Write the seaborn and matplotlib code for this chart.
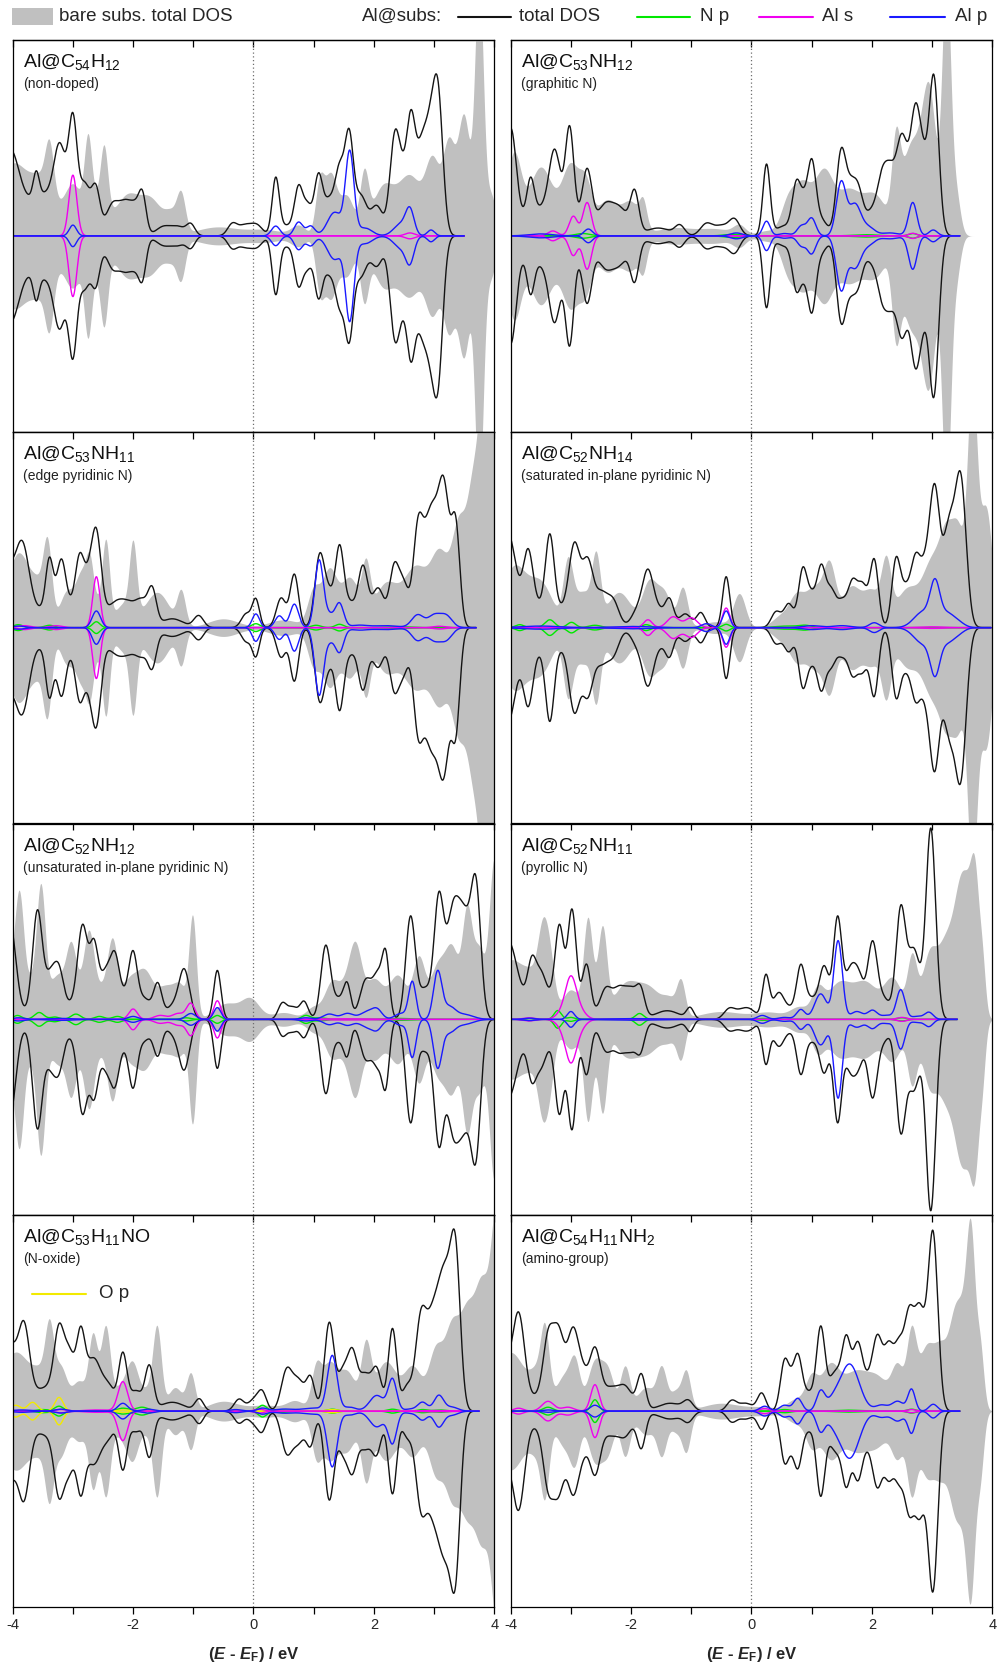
import numpy as np
import pandas as pd
import matplotlib
matplotlib.use("Agg")
import matplotlib.pyplot as plt
import seaborn as sns
from matplotlib import font_manager
from matplotlib.patches import Rectangle
from matplotlib.lines import Line2D

# ---------------------------------------------------------------------------
# Density of states: each curve is a list of broadened levels
# (energy relative to E_F / eV, peak height / arb. units, Gaussian width / eV).
# Positive half = spin up, mirrored half = spin down.
# ---------------------------------------------------------------------------

# Al@C54H12 (non-doped)
P1_BARE = [(-4.0, 0.36, 0.25), (-3.5, 0.25, 0.2), (-3.39, 0.25, 0.07), (-3.0, 0.25, 0.15),
           (-2.75, 0.35, 0.06), (-2.6, 0.18, 0.15), (-2.48, 0.3, 0.06), (-2.1, 0.2, 0.2),
           (-1.7, 0.17, 0.18), (-1.35, 0.1, 0.12), (-1.2, 0.17, 0.07), (-0.6, 0.045, 0.35),
           (0.2, 0.03, 0.3), (0.75, 0.05, 0.12), (1.1, 0.25, 0.07), (1.28, 0.3, 0.1),
           (1.55, 0.2, 0.12), (1.84, 0.28, 0.07), (2.15, 0.24, 0.18), (2.6, 0.3, 0.2),
           (2.98, 0.35, 0.12), (3.25, 0.45, 0.1), (3.5, 0.6, 0.1), (3.75, 1.3, 0.07),
           (3.95, 0.2, 0.08)]
P1_TOTAL = [(-4.05, 0.36, 0.15), (-3.4, 0.22, 0.45), (-3.61, 0.13, 0.05), (-3.22, 0.27, 0.09),
            (-3.0, 0.46, 0.07), (-2.8, 0.17, 0.08), (-2.62, 0.2, 0.07), (-2.34, 0.14, 0.1),
            (-2.14, 0.14, 0.1), (-1.95, 0.14, 0.1), (-1.84, 0.15, 0.06), (-1.5, 0.045, 0.12),
            (-1.25, 0.045, 0.12), (-1.04, 0.055, 0.07), (-0.35, 0.06, 0.08), (-0.15, 0.05, 0.1),
            (0.05, 0.055, 0.1), (0.37, 0.29, 0.06), (0.55, 0.05, 0.1), (0.75, 0.24, 0.07),
            (0.90, 0.14, 0.07), (1.08, 0.30, 0.07), (1.25, 0.16, 0.08), (1.43, 0.33, 0.08),
            (1.59, 0.47, 0.07), (1.78, 0.2, 0.1), (2.05, 0.15, 0.1), (2.34, 0.42, 0.08),
            (2.48, 0.28, 0.1), (2.62, 0.45, 0.07), (2.80, 0.45, 0.1), (2.95, 0.35, 0.08),
            (3.07, 0.66, 0.08)]
P1_NP = []
P1_OP = []
P1_ALS = [(-3.0, 0.31, 0.065), (2.6, 0.015, 0.08)]
P1_ALP = [(-3.0, 0.055, 0.06), (0.37, 0.05, 0.07), (0.75, 0.07, 0.07), (0.95, 0.05, 0.07),
          (1.35, 0.12, 0.12), (1.6, 0.42, 0.07), (1.85, 0.04, 0.12), (2.45, 0.06, 0.12),
          (2.6, 0.12, 0.07), (2.95, 0.03, 0.06)]
P1_END = 3.5

# Al@C53NH12 (graphitic N)
P2_BARE = [(-3.95, 0.4, 0.12), (-3.5, 0.35, 0.2), (-3.0, 0.35, 0.15), (-2.75, 0.2, 0.1),
           (-2.4, 0.18, 0.18), (-2.0, 0.16, 0.15), (-1.8, 0.12, 0.06), (-1.3, 0.04, 0.3),
           (-0.6, 0.035, 0.3), (-0.2, 0.045, 0.1), (0.25, 0.025, 0.15), (0.6, 0.15, 0.12),
           (0.85, 0.25, 0.15), (1.2, 0.3, 0.15), (1.6, 0.22, 0.2), (2.05, 0.2, 0.2),
           (2.4, 0.4, 0.07), (2.65, 0.45, 0.15), (2.95, 0.72, 0.12), (3.24, 1.3, 0.07),
           (3.4, 0.2, 0.07)]
P2_TOTAL = [(-4.0, 0.5, 0.09), (-3.4, 0.15, 0.4), (-3.67, 0.18, 0.06), (-3.27, 0.3, 0.09),
            (-3.02, 0.46, 0.07), (-2.73, 0.3, 0.08), (-2.45, 0.12, 0.12), (-2.2, 0.14, 0.15),
            (-1.94, 0.2, 0.07), (-1.55, 0.04, 0.2), (-1.19, 0.05, 0.08), (-0.75, 0.06, 0.1),
            (-0.5, 0.05, 0.12), (-0.28, 0.08, 0.09), (0.25, 0.36, 0.06), (0.55, 0.05, 0.15),
            (0.75, 0.25, 0.07), (0.87, 0.12, 0.06), (1.0, 0.36, 0.07), (1.16, 0.08, 0.1),
            (1.49, 0.42, 0.08), (1.65, 0.2, 0.08), (1.78, 0.2, 0.08), (2.0, 0.12, 0.1),
            (2.17, 0.25, 0.08), (2.3, 0.25, 0.08), (2.5, 0.5, 0.1), (2.72, 0.55, 0.08),
            (2.85, 0.3, 0.08), (3.03, 0.8, 0.08)]
P2_NP = [(-2.8, 0.012, 0.12), (-0.3, 0.008, 0.15), (1.9, 0.006, 0.2), (2.68, 0.012, 0.07)]
P2_OP = []
P2_ALS = [(-3.3, 0.025, 0.08), (-2.96, 0.1, 0.07), (-2.73, 0.17, 0.07), (2.68, 0.013, 0.07)]
P2_ALP = [(-3.5, 0.01, 0.2), (-2.71, 0.035, 0.07), (-0.25, 0.015, 0.1), (0.25, 0.075, 0.06),
          (0.55, 0.012, 0.1), (0.83, 0.05, 0.07), (1.0, 0.09, 0.07), (1.49, 0.27, 0.08),
          (1.72, 0.16, 0.1), (1.95, 0.04, 0.1), (2.3, 0.015, 0.15), (2.68, 0.17, 0.07),
          (3.02, 0.03, 0.07)]
P2_END = 3.46

# Al@C53NH11 (edge pyridinic N)
P3_BARE = [(-3.9, 0.38, 0.2), (-3.55, 0.15, 0.12), (-3.42, 0.35, 0.07), (-3.1, 0.18, 0.12),
           (-2.85, 0.25, 0.1), (-2.72, 0.2, 0.06), (-2.6, 0.12, 0.12), (-2.45, 0.38, 0.06),
           (-2.15, 0.12, 0.15), (-2.0, 0.35, 0.06), (-1.6, 0.18, 0.2), (-1.2, 0.17, 0.07),
           (-0.5, 0.045, 0.25), (0.5, 0.04, 0.25), (1.0, 0.18, 0.1), (1.26, 0.28, 0.12),
           (1.6, 0.25, 0.15), (1.87, 0.25, 0.07), (2.2, 0.22, 0.2), (2.7, 0.3, 0.2),
           (3.1, 0.35, 0.15), (3.42, 0.5, 0.12), (3.65, 0.6, 0.1), (3.85, 1.2, 0.1),
           (4.05, 0.8, 0.1)]
P3_TOTAL = [(-4.1, 0.25, 0.1), (-3.85, 0.4, 0.12), (-3.2, 0.13, 0.4), (-3.39, 0.24, 0.06),
            (-3.19, 0.22, 0.07), (-2.89, 0.25, 0.07), (-2.75, 0.15, 0.08), (-2.61, 0.42, 0.08),
            (-2.3, 0.1, 0.15), (-2.05, 0.1, 0.15), (-1.84, 0.1, 0.1), (-1.68, 0.17, 0.07),
            (-1.35, 0.045, 0.18), (-0.91, 0.06, 0.08), (-0.12, 0.07, 0.08), (0.04, 0.14, 0.06),
            (0.46, 0.15, 0.08), (0.68, 0.27, 0.07), (1.1, 0.36, 0.08), (1.26, 0.15, 0.08),
            (1.43, 0.38, 0.07), (1.6, 0.12, 0.1), (1.82, 0.3, 0.08), (2.07, 0.2, 0.1),
            (2.34, 0.3, 0.08), (2.5, 0.2, 0.08), (2.73, 0.45, 0.08), (2.88, 0.3, 0.1),
            (3.0, 0.4, 0.1), (3.17, 0.65, 0.09), (3.36, 0.5, 0.07)]
P3_NP = [(-3.91, 0.015, 0.08), (-3.39, 0.012, 0.08), (-2.61, 0.03, 0.06), (0.04, 0.02, 0.07),
         (1.04, 0.012, 0.08), (1.43, 0.017, 0.07), (2.4, 0.005, 0.2)]
P3_OP = []
P3_ALS = [(-3.8, 0.01, 0.1), (-3.28, 0.01, 0.1), (-2.61, 0.26, 0.06), (3.09, 0.007, 0.1)]
P3_ALP = [(-3.9, 0.008, 0.1), (-2.61, 0.085, 0.07), (0.04, 0.07, 0.06), (0.43, 0.06, 0.07),
          (0.68, 0.12, 0.07), (1.09, 0.34, 0.07), (1.26, 0.06, 0.08), (1.43, 0.12, 0.07),
          (1.75, 0.012, 0.15), (2.2, 0.01, 0.2), (2.73, 0.065, 0.1), (3.0, 0.06, 0.1),
          (3.2, 0.06, 0.1)]
P3_END = 3.7

# Al@C52NH14 (saturated in-plane pyridinic N)
P4_BARE = [(-3.95, 0.3, 0.2), (-3.5, 0.22, 0.2), (-3.05, 0.3, 0.08), (-2.8, 0.18, 0.15),
           (-2.58, 0.3, 0.07), (-2.2, 0.18, 0.2), (-1.7, 0.22, 0.12), (-1.45, 0.17, 0.12),
           (-1.14, 0.2, 0.08), (-0.6, 0.03, 0.2), (-0.2, 0.17, 0.1), (0.5, 0.06, 0.15),
           (0.75, 0.14, 0.12), (1.05, 0.2, 0.15), (1.3, 0.28, 0.1), (1.65, 0.2, 0.15),
           (2.0, 0.18, 0.15), (2.24, 0.28, 0.08), (2.6, 0.2, 0.2), (3.0, 0.3, 0.15),
           (3.25, 0.42, 0.12), (3.45, 0.4, 0.1), (3.67, 1.2, 0.08), (3.9, 0.6, 0.1)]
P4_TOTAL = [(-4.05, 0.45, 0.13), (-3.71, 0.3, 0.08), (-3.4, 0.12, 0.4), (-3.35, 0.36, 0.07),
            (-2.94, 0.36, 0.09), (-2.72, 0.3, 0.09), (-2.5, 0.15, 0.1), (-2.3, 0.13, 0.1),
            (-1.9, 0.08, 0.1), (-1.72, 0.27, 0.09), (-1.53, 0.08, 0.1), (-1.36, 0.13, 0.07),
            (-1.1, 0.07, 0.1), (-0.84, 0.075, 0.07), (-0.42, 0.26, 0.06), (0.41, 0.08, 0.08),
            (0.62, 0.12, 0.08), (0.85, 0.28, 0.07), (1.0, 0.15, 0.08), (1.16, 0.28, 0.07),
            (1.32, 0.18, 0.08), (1.5, 0.12, 0.08), (1.68, 0.22, 0.08), (1.85, 0.2, 0.08),
            (2.04, 0.34, 0.07), (2.4, 0.33, 0.07), (2.55, 0.17, 0.08), (2.72, 0.3, 0.08),
            (2.9, 0.3, 0.1), (3.05, 0.6, 0.08), (3.28, 0.5, 0.1), (3.48, 0.72, 0.09)]
P4_NP = [(-3.85, 0.015, 0.07), (-3.35, 0.04, 0.08), (-2.99, 0.027, 0.07), (-2.6, 0.012, 0.1),
         (-1.75, 0.015, 0.07), (-0.42, 0.017, 0.06), (0.6, 0.008, 0.2), (0.9, 0.01, 0.1)]
P4_OP = []
P4_ALS = [(-1.72, 0.04, 0.07), (-1.3, 0.055, 0.1), (-1.0, 0.05, 0.1), (-0.42, 0.1, 0.06),
          (3.0, 0.004, 0.2)]
P4_ALP = [(-3.5, 0.008, 0.3), (-2.0, 0.006, 0.3), (-0.75, 0.02, 0.08), (-0.42, 0.085, 0.06),
          (1.0, 0.01, 0.15), (1.5, 0.01, 0.15), (2.04, 0.025, 0.08), (2.85, 0.08, 0.15),
          (3.05, 0.2, 0.08), (3.25, 0.07, 0.12), (3.45, 0.02, 0.1)]
P4_END = 3.98

# Al@C52NH12 (unsaturated in-plane pyridinic N)
P5_BARE = [(-4.05, 0.25, 0.1), (-3.89, 0.5, 0.07), (-3.7, 0.2, 0.15), (-3.53, 0.55, 0.07),
           (-3.25, 0.22, 0.15), (-3.03, 0.25, 0.08), (-2.85, 0.15, 0.15), (-2.73, 0.3, 0.08),
           (-2.5, 0.15, 0.15), (-2.34, 0.3, 0.08), (-2.05, 0.2, 0.15), (-1.8, 0.17, 0.12),
           (-1.45, 0.17, 0.2), (-1.2, 0.1, 0.1), (-1.01, 0.5, 0.06), (-0.45, 0.08, 0.2),
           (-0.05, 0.1, 0.15), (0.5, 0.035, 0.2), (1.0, 0.06, 0.12), (1.3, 0.18, 0.12),
           (1.55, 0.15, 0.12), (1.7, 0.3, 0.1), (2.0, 0.2, 0.15), (2.4, 0.22, 0.15),
           (2.75, 0.3, 0.1), (3.05, 0.25, 0.12), (3.3, 0.35, 0.12), (3.55, 0.5, 0.08),
           (3.75, 0.35, 0.1), (4.0, 0.8, 0.08)]
P5_TOTAL = [(-4.05, 0.48, 0.1), (-3.0, 0.08, 0.6), (-3.59, 0.5, 0.08), (-3.35, 0.18, 0.1),
            (-3.22, 0.12, 0.07), (-2.84, 0.4, 0.08), (-2.65, 0.3, 0.07), (-2.45, 0.15, 0.09),
            (-2.3, 0.18, 0.07), (-2.2, 0.1, 0.2), (-2.0, 0.26, 0.07), (-1.8, 0.08, 0.1),
            (-1.59, 0.17, 0.07), (-1.35, 0.06, 0.1), (-1.15, 0.25, 0.09), (-0.6, 0.25, 0.06),
            (0.48, 0.08, 0.07), (0.65, 0.06, 0.08), (0.84, 0.09, 0.07), (1.2, 0.37, 0.08),
            (1.42, 0.1, 0.1), (1.56, 0.15, 0.06), (1.87, 0.2, 0.1), (2.07, 0.2, 0.08),
            (2.2, 0.3, 0.06), (2.61, 0.52, 0.08), (2.85, 0.15, 0.1), (3.08, 0.6, 0.08),
            (3.3, 0.45, 0.1), (3.5, 0.5, 0.12), (3.7, 0.6, 0.08)]
P5_NP = [(-3.92, 0.02, 0.07), (-3.56, 0.035, 0.08), (-3.3, 0.012, 0.07), (-2.95, 0.027, 0.08),
         (-2.56, 0.015, 0.08), (-2.26, 0.015, 0.08), (-1.12, 0.008, 0.08), (-0.6, 0.02, 0.06),
         (0.87, 0.02, 0.07), (1.1, 0.008, 0.1), (2.4, 0.005, 0.2)]
P5_OP = []
P5_ALS = [(-2.0, 0.053, 0.07), (-1.55, 0.02, 0.1), (-1.25, 0.03, 0.1), (-1.04, 0.08, 0.07),
          (-0.6, 0.095, 0.06), (1.5, 0.003, 0.5)]
P5_ALP = [(-3.9, 0.008, 0.1), (-3.2, 0.005, 0.2), (-2.0, 0.015, 0.08), (-1.04, 0.03, 0.08),
          (-0.6, 0.06, 0.06), (0.87, 0.008, 0.1), (1.26, 0.027, 0.1), (1.56, 0.03, 0.1),
          (1.9, 0.04, 0.12), (2.06, 0.04, 0.08), (2.45, 0.03, 0.1), (2.64, 0.19, 0.06),
          (3.06, 0.24, 0.07), (3.25, 0.06, 0.1), (3.5, 0.025, 0.15)]
P5_END = 4.0

# Al@C52NH11 (pyrollic N)
P6_BARE = [(-4.0, 0.3, 0.25), (-3.6, 0.15, 0.15), (-3.47, 0.3, 0.08), (-3.35, 0.25, 0.08),
           (-3.0, 0.15, 0.15), (-2.72, 0.42, 0.07), (-2.6, 0.12, 0.12), (-2.47, 0.38, 0.07),
           (-2.1, 0.17, 0.2), (-1.7, 0.15, 0.2), (-1.35, 0.08, 0.12), (-1.17, 0.17, 0.07),
           (-0.5, 0.04, 0.35), (0.3, 0.035, 0.25), (0.8, 0.06, 0.15), (1.1, 0.13, 0.1),
           (1.45, 0.18, 0.2), (1.9, 0.18, 0.2), (2.35, 0.2, 0.15), (2.67, 0.3, 0.08),
           (2.95, 0.3, 0.12), (3.25, 0.4, 0.15), (3.45, 0.3, 0.1), (3.6, 0.55, 0.12),
           (3.72, 0.45, 0.07), (3.84, 0.2, 0.05)]
P6_TOTAL = [(-4.05, 0.38, 0.15), (-3.4, 0.12, 0.35), (-3.65, 0.2, 0.07), (-3.5, 0.12, 0.08),
            (-3.19, 0.38, 0.07), (-2.98, 0.5, 0.07), (-2.74, 0.26, 0.07), (-2.42, 0.15, 0.1),
            (-2.2, 0.14, 0.1), (-2.0, 0.14, 0.1), (-1.84, 0.13, 0.07), (-1.4, 0.044, 0.2),
            (-1.02, 0.055, 0.06), (-0.37, 0.05, 0.09), (-0.15, 0.045, 0.12), (0.0, 0.03, 0.1),
            (0.24, 0.22, 0.06), (0.45, 0.13, 0.09), (0.65, 0.05, 0.1), (0.82, 0.25, 0.07),
            (1.0, 0.1, 0.1), (1.21, 0.26, 0.08), (1.43, 0.5, 0.07), (1.65, 0.25, 0.1),
            (1.8, 0.15, 0.08), (2.01, 0.38, 0.08), (2.2, 0.1, 0.1), (2.48, 0.55, 0.08),
            (2.7, 0.35, 0.1), (2.98, 0.97, 0.08)]
P6_NP = [(-3.69, 0.006, 0.08), (-3.22, 0.045, 0.06), (-3.0, 0.01, 0.06), (-1.86, 0.03, 0.07),
         (0.2, 0.005, 0.1), (2.5, 0.008, 0.08)]
P6_OP = []
P6_ALS = [(-3.7, 0.008, 0.1), (-3.15, 0.03, 0.1), (-3.0, 0.2, 0.09), (-2.85, 0.04, 0.1),
          (2.5, 0.01, 0.08)]
P6_ALP = [(-3.69, 0.006, 0.1), (-3.0, 0.04, 0.06), (-2.0, 0.004, 0.4), (0.18, 0.02, 0.08),
          (0.55, 0.01, 0.1), (0.82, 0.05, 0.07), (1.15, 0.13, 0.1), (1.44, 0.4, 0.07),
          (1.75, 0.04, 0.1), (2.01, 0.045, 0.08), (2.25, 0.02, 0.1), (2.48, 0.15, 0.07),
          (2.75, 0.015, 0.1), (2.95, 0.035, 0.07)]
P6_END = 3.42

# Al@C53H11NO (N-oxide)
P7_BARE = [(-3.95, 0.3, 0.25), (-3.5, 0.15, 0.15), (-3.39, 0.3, 0.07), (-3.2, 0.2, 0.1),
           (-2.9, 0.15, 0.12), (-2.67, 0.3, 0.07), (-2.55, 0.12, 0.12), (-2.45, 0.32, 0.07),
           (-2.2, 0.12, 0.15), (-2.0, 0.2, 0.1), (-1.75, 0.1, 0.1), (-1.6, 0.4, 0.07),
           (-1.3, 0.12, 0.12), (-1.04, 0.18, 0.07), (-0.5, 0.05, 0.25), (0.2, 0.03, 0.25),
           (0.7, 0.05, 0.15), (1.04, 0.2, 0.08), (1.25, 0.22, 0.12), (1.55, 0.2, 0.15),
           (1.87, 0.3, 0.08), (2.2, 0.25, 0.18), (2.65, 0.22, 0.15), (3.03, 0.3, 0.12),
           (3.3, 0.4, 0.12), (3.55, 0.45, 0.12), (3.8, 0.6, 0.12), (4.05, 1.0, 0.1)]
P7_TOTAL = [(-4.05, 0.3, 0.12), (-3.81, 0.35, 0.09), (-3.3, 0.13, 0.45), (-3.23, 0.3, 0.08),
            (-3.06, 0.18, 0.08), (-2.87, 0.3, 0.07), (-2.65, 0.22, 0.12), (-2.4, 0.1, 0.1),
            (-2.17, 0.28, 0.07), (-1.95, 0.1, 0.1), (-1.73, 0.22, 0.07), (-1.35, 0.045, 0.2),
            (-0.9, 0.06, 0.07), (-0.24, 0.06, 0.08), (0.02, 0.06, 0.1), (0.15, 0.08, 0.07),
            (0.55, 0.2, 0.09), (0.75, 0.15, 0.1), (0.95, 0.16, 0.07), (1.26, 0.45, 0.08),
            (1.48, 0.18, 0.08), (1.64, 0.28, 0.08), (1.85, 0.18, 0.1), (2.05, 0.2, 0.08),
            (2.31, 0.42, 0.07), (2.55, 0.12, 0.08), (2.78, 0.45, 0.09), (2.97, 0.4, 0.1),
            (3.15, 0.55, 0.1), (3.25, 0.2, 0.08), (3.36, 0.75, 0.08)]
P7_NP = [(-3.5, 0.008, 0.1), (-3.23, 0.025, 0.07), (-2.17, 0.015, 0.1), (-1.85, 0.02, 0.1),
         (0.15, 0.03, 0.07), (0.48, 0.006, 0.1), (1.31, 0.01, 0.08), (2.31, 0.01, 0.08),
         (2.81, 0.008, 0.08), (3.1, 0.006, 0.1)]
P7_OP = [(-3.95, 0.03, 0.08), (-3.67, 0.045, 0.08), (-3.23, 0.07, 0.07), (-2.17, 0.006, 0.1),
         (1.31, 0.008, 0.1)]
P7_ALS = [(-3.2, 0.008, 0.1), (-2.6, 0.006, 0.2), (-2.17, 0.15, 0.08), (0.1, 0.01, 0.08),
          (3.0, 0.003, 0.3)]
P7_ALP = [(-3.85, 0.006, 0.15), (-3.2, 0.01, 0.1), (-2.17, 0.04, 0.08), (-1.75, 0.01, 0.1),
          (-0.3, 0.008, 0.1), (0.15, 0.015, 0.08), (0.5, 0.01, 0.15), (1.0, 0.015, 0.2),
          (1.31, 0.28, 0.08), (1.6, 0.02, 0.1), (2.05, 0.08, 0.12), (2.31, 0.16, 0.07),
          (2.6, 0.01, 0.1), (2.81, 0.045, 0.08), (3.08, 0.08, 0.08), (3.3, 0.02, 0.1)]
P7_END = 3.75

# Al@C54H11NH2 (amino-group)
P8_BARE = [(-4.0, 0.3, 0.25), (-3.55, 0.15, 0.12), (-3.43, 0.32, 0.07), (-3.1, 0.18, 0.15),
           (-2.93, 0.18, 0.08), (-2.6, 0.25, 0.12), (-2.38, 0.18, 0.1), (-2.1, 0.22, 0.08),
           (-1.75, 0.12, 0.15), (-1.49, 0.2, 0.08), (-1.25, 0.1, 0.1), (-1.08, 0.18, 0.07),
           (-0.5, 0.04, 0.3), (0.2, 0.02, 0.25), (0.75, 0.06, 0.15), (1.0, 0.15, 0.1),
           (1.3, 0.22, 0.15), (1.7, 0.18, 0.2), (2.1, 0.16, 0.2), (2.43, 0.2, 0.1),
           (2.66, 0.38, 0.08), (2.9, 0.3, 0.12), (3.15, 0.3, 0.12), (3.38, 0.4, 0.1),
           (3.55, 0.4, 0.1), (3.65, 0.7, 0.07), (3.8, 0.3, 0.06)]
P8_TOTAL = [(-4.1, 0.2, 0.1), (-3.87, 0.47, 0.1), (-3.2, 0.14, 0.35), (-3.38, 0.25, 0.08),
            (-3.21, 0.27, 0.09), (-2.96, 0.3, 0.09), (-2.8, 0.1, 0.08), (-2.6, 0.28, 0.09),
            (-2.35, 0.1, 0.12), (-2.1, 0.12, 0.12), (-1.83, 0.18, 0.07), (-1.35, 0.04, 0.2),
            (-1.05, 0.045, 0.08), (-0.33, 0.05, 0.08), (-0.1, 0.04, 0.12), (0.17, 0.09, 0.07),
            (0.55, 0.25, 0.07), (0.66, 0.08, 0.06), (0.77, 0.26, 0.07), (0.95, 0.09, 0.1),
            (1.15, 0.4, 0.07), (1.4, 0.2, 0.12), (1.58, 0.3, 0.07), (1.76, 0.3, 0.08),
            (1.95, 0.15, 0.12), (2.1, 0.3, 0.08), (2.28, 0.3, 0.08), (2.45, 0.3, 0.08),
            (2.62, 0.45, 0.08), (2.78, 0.35, 0.08), (2.87, 0.2, 0.1), (3.02, 0.85, 0.08)]
P8_NP = [(-3.38, 0.02, 0.08), (-2.6, 0.058, 0.06), (0.55, 0.008, 0.1), (1.6, 0.005, 0.2),
         (2.66, 0.01, 0.07)]
P8_OP = []
P8_ALS = [(-3.87, 0.015, 0.08), (-3.38, 0.05, 0.1), (-3.05, 0.02, 0.1), (-2.6, 0.135, 0.07),
          (0.22, 0.013, 0.08), (2.66, 0.008, 0.07)]
P8_ALP = [(-3.38, 0.006, 0.1), (-2.6, 0.03, 0.08), (0.22, 0.025, 0.08), (0.55, 0.03, 0.08),
          (0.77, 0.065, 0.07), (1.15, 0.1, 0.07), (1.35, 0.04, 0.1), (1.63, 0.24, 0.16),
          (2.16, 0.03, 0.1), (2.43, 0.05, 0.1), (2.66, 0.11, 0.06), (3.02, 0.035, 0.07)]
P8_END = 3.46

FORMULAS = [r"Al@C$_{54}$H$_{12}$", r"Al@C$_{53}$NH$_{12}$", r"Al@C$_{53}$NH$_{11}$",
            r"Al@C$_{52}$NH$_{14}$", r"Al@C$_{52}$NH$_{12}$", r"Al@C$_{52}$NH$_{11}$",
            r"Al@C$_{53}$H$_{11}$NO", r"Al@C$_{54}$H$_{11}$NH$_{2}$"]
SUBTITLES = ["(non-doped)", "(graphitic N)", "(edge pyridinic N)",
             "(saturated in-plane pyridinic N)", "(unsaturated in-plane pyridinic N)",
             "(pyrollic N)", "(N-oxide)", "(amino-group)"]
X_TICKS = [-4, -3, -2, -1, 0, 1, 2, 3, 4]
X_TICK_LABELS = ["-4", "", "-2", "", "0", "", "2", "", "4"]

PANELS = [
    dict(bare=P1_BARE, total=P1_TOTAL, np_=P1_NP, op=P1_OP, als=P1_ALS, alp=P1_ALP, end=P1_END),
    dict(bare=P2_BARE, total=P2_TOTAL, np_=P2_NP, op=P2_OP, als=P2_ALS, alp=P2_ALP, end=P2_END),
    dict(bare=P3_BARE, total=P3_TOTAL, np_=P3_NP, op=P3_OP, als=P3_ALS, alp=P3_ALP, end=P3_END),
    dict(bare=P4_BARE, total=P4_TOTAL, np_=P4_NP, op=P4_OP, als=P4_ALS, alp=P4_ALP, end=P4_END),
    dict(bare=P5_BARE, total=P5_TOTAL, np_=P5_NP, op=P5_OP, als=P5_ALS, alp=P5_ALP, end=P5_END),
    dict(bare=P6_BARE, total=P6_TOTAL, np_=P6_NP, op=P6_OP, als=P6_ALS, alp=P6_ALP, end=P6_END),
    dict(bare=P7_BARE, total=P7_TOTAL, np_=P7_NP, op=P7_OP, als=P7_ALS, alp=P7_ALP, end=P7_END),
    dict(bare=P8_BARE, total=P8_TOTAL, np_=P8_NP, op=P8_OP, als=P8_ALS, alp=P8_ALP, end=P8_END),
]

# ---------------------------------------------------------------------------
GRAY_FILL = "#c0c0c0"
COLORS = {"total DOS": "#141414", "N p": "#00e800", "O p": "#f2ea00",
          "Al s": "#f000f0", "Al p": "#1a1aff"}
CURVE_ORDER = ["total DOS", "N p", "O p", "Al s", "Al p"]

sns.set_theme(style="white")


def pick_font(candidates):
    names = {f.name for f in font_manager.fontManager.ttflist}
    for c in candidates:
        if c in names:
            return c
    return "DejaVu Sans"


SANS = pick_font(["Liberation Sans", "Arial", "DejaVu Sans"])
plt.rcParams["font.family"] = [SANS, "DejaVu Sans"]
plt.rcParams["mathtext.fontset"] = "custom"
plt.rcParams["mathtext.rm"] = SANS
plt.rcParams["mathtext.it"] = SANS + ":italic"
plt.rcParams["mathtext.bf"] = SANS + ":bold"
HAS_BFIT = "mathtext.bfit" in plt.rcParams
if HAS_BFIT:
    plt.rcParams["mathtext.bfit"] = SANS + ":italic:bold"
plt.rcParams["axes.edgecolor"] = "black"
plt.rcParams["axes.linewidth"] = 0.9


def broaden(energy, levels):
    dos = np.zeros_like(energy)
    for e0, h, s in levels:
        dos += h * np.exp(-0.5 * ((energy - e0) / s) ** 2)
    return dos


W, H = 998, 1670
fig = plt.figure(figsize=(W / 100, H / 100), dpi=100)
COL_X = [12.7, 510.7]
AX_W = 481.5
ROW_TOP = 40.0
ROW_H = 391.75

grid = np.linspace(-4.0, 4.2, 1641)

if HAS_BFIT:
    XLABEL = r"($\mathbfit{E}$ - $\mathbfit{E}_{\mathbf{F}}$) / eV"
else:
    XLABEL = r"($\mathbf{E}$ - $\mathbf{E}_{\mathbf{F}}$) / eV"

for i, (panel, formula, sub) in enumerate(zip(PANELS, FORMULAS, SUBTITLES)):
    r, c = divmod(i, 2)
    top = ROW_TOP + r * ROW_H
    ax = fig.add_axes([COL_X[c] / W, 1 - (top + ROW_H) / H, AX_W / W, ROW_H / H])

    bare = broaden(grid, panel["bare"])
    ax.fill_between(grid, -bare, bare, color=GRAY_FILL, lw=0, zorder=1)
    ax.axvline(0, color="#6e6e6e", lw=0.9, ls=(0, (1, 2)), zorder=1.5)

    e = grid[grid <= panel["end"]]
    frames = []
    for name, key in zip(CURVE_ORDER, ["total", "np_", "op", "als", "alp"]):
        levels = panel[key]
        if not levels:
            continue
        d = broaden(e, levels)
        for spin, sign in (("up", 1.0), ("down", -1.0)):
            frames.append(pd.DataFrame({"E": e, "DOS": sign * d, "curve": name, "spin": spin}))
    df = pd.concat(frames, ignore_index=True)
    present = [n for n in CURVE_ORDER if n in set(df["curve"])]
    sns.lineplot(data=df, x="E", y="DOS", hue="curve", units="spin", estimator=None,
                 sort=False, hue_order=present, palette=COLORS, linewidth=1.0,
                 legend=False, ax=ax, zorder=2)

    ax.set_xlim(-4, 4)
    ax.set_ylim(-1, 1)
    ax.set_yticks([])
    ax.set_ylabel("")
    for sp in ax.spines.values():
        sp.set_color("black")
        sp.set_linewidth(0.9)

    sec = ax.secondary_xaxis("top")
    sec.set_xticks(X_TICKS)
    sec.tick_params(axis="x", direction="in", length=5, width=0.9, color="black",
                    top=True, labeltop=False)

    if r == 3:
        ax.set_xticks(X_TICKS)
        ax.set_xticklabels(X_TICK_LABELS)
        ax.tick_params(axis="x", direction="out", length=5, width=0.9, color="black",
                       bottom=True, labelbottom=True, labelsize=10.5, pad=3)
        ax.set_xlabel(XLABEL, fontsize=12, fontweight="bold", labelpad=9)
    else:
        ax.set_xticks([])
        ax.set_xlabel("")
        ax.tick_params(axis="x", bottom=False, labelbottom=False)

    ax.text(0.022, 0.931, formula, transform=ax.transAxes, fontsize=14, va="baseline",
            ha="left", color="#111111")
    ax.text(0.022, 0.877, sub, transform=ax.transAxes, fontsize=10, va="baseline",
            ha="left", color="#222222")

    if panel["op"]:
        ax.add_line(Line2D([0.040, 0.152], [0.799, 0.799], transform=ax.transAxes,
                           color=COLORS["O p"], lw=1.5))
        ax.text(0.179, 0.799, "O p", transform=ax.transAxes, fontsize=13.5,
                va="center", ha="left")

# Figure-wide key along the top edge
key = fig.add_axes([0, 0, 1, 1])
key.set_xlim(0, W)
key.set_ylim(H, 0)
key.axis("off")
key.add_patch(Rectangle((12, 8), 41, 17, color=GRAY_FILL, lw=0))
key.text(59, 16.5, "bare subs. total DOS", fontsize=13.5, va="center", ha="left")
key.text(362, 16.5, "Al@subs:", fontsize=13.5, va="center", ha="left")
for (x0, x1, tx, name) in [(458, 511, 519, "total DOS"), (637, 690, 700, "N p"),
                           (759, 813, 822, "Al s"), (890, 945, 955, "Al p")]:
    key.add_line(Line2D([x0, x1], [17, 17], color=COLORS[name], lw=1.5))
    key.text(tx, 16.5, name, fontsize=13.5, va="center", ha="left")

fig.savefig("out.png", dpi=100)
